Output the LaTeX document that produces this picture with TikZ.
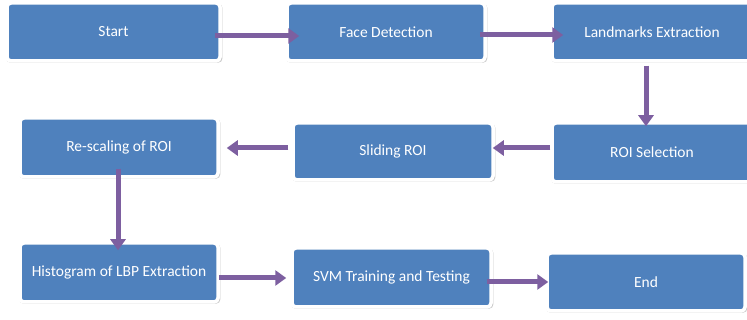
\documentclass[tikz,border=0pt]{standalone}
\usepackage{fontspec}
\setmainfont{Carlito}
\usetikzlibrary{arrows.meta,shadows}
\definecolor{boxblue}{HTML}{4F81BD}
\definecolor{flowpurple}{HTML}{7D5FA0}
\tikzset{
  stage/.style={draw=white, line width=3.5pt, fill=boxblue, rounded corners=4pt,
    text=white, font=\fontsize{15.5}{18}\selectfont, minimum height=58pt,
    drop shadow={shadow xshift=0.8pt, shadow yshift=-1.2pt, shadow scale=1.015, opacity=.3, fill=black!70}},
  flow/.style={flowpurple, line width=5pt, -{Triangle[length=11pt,width=15pt]}}
}
\begin{document}
\begin{tikzpicture}[x=1pt,y=-1pt]
			\useasboundingbox (0,0) rectangle (747,320);
			\node [stage, minimum width=213pt] (start) at (113.5,32) {Start};
			\node [stage, minimum width=198pt] (face) at (386,32) {Face Detection};
			\node [stage, minimum width=200pt] (land) at (652,32) {Landmarks Extraction};
			\node [stage, minimum width=200pt, minimum height=59pt] (roisel) at (652,152.5) {ROI Selection};
			\node [stage, minimum width=200pt, minimum height=57pt] (slide) at (393,151.5) {Sliding ROI};
			\node [stage, minimum width=198pt, minimum height=59pt] (rescale) at (119,147.5) {Re-scaling of ROI};
			\node [stage, minimum width=198pt, minimum height=59pt] (hist) at (119,272.5) {Histogram of LBP Extraction};
			\node [stage, minimum width=199pt, minimum height=59pt] (svm) at (391.5,277.5) {SVM Training and Testing};
			\node [stage, minimum width=198pt] (end) at (646,282) {End};
			%
			\draw [flow] ([xshift=-7pt,yshift=-4pt]start.east) -- ([xshift=14pt,yshift=-4pt]face.west);
			\draw [flow] ([xshift=-7pt,yshift=-3pt]face.east) -- ([xshift=13pt,yshift=-3pt]land.west);
			\draw [flow] ([xshift=-6pt,yshift=-3pt]land.south) -- ([xshift=-6pt,yshift=-5pt]roisel.north);
			\draw [flow] ([yshift=4.5pt]roisel.west) -- ([xshift=-2pt,yshift=3.5pt]slide.east);
			\draw [flow] ([xshift=-3pt,yshift=3.5pt]slide.west) -- ([xshift=7pt,yshift=-0.5pt]rescale.east);
			\draw [flow] ([xshift=-1pt,yshift=10pt]rescale.south) -- ([xshift=-1pt,yshift=-9pt]hist.north);
			\draw [flow] ([xshift=-1pt,yshift=-5.5pt]hist.east) -- ([xshift=-4pt,yshift=-0.5pt]svm.west);
			\draw [flow] ([xshift=-6pt,yshift=-4.5pt]svm.east) -- ([xshift=3pt,yshift=0pt]end.west);
\end{tikzpicture}
\end{document}
